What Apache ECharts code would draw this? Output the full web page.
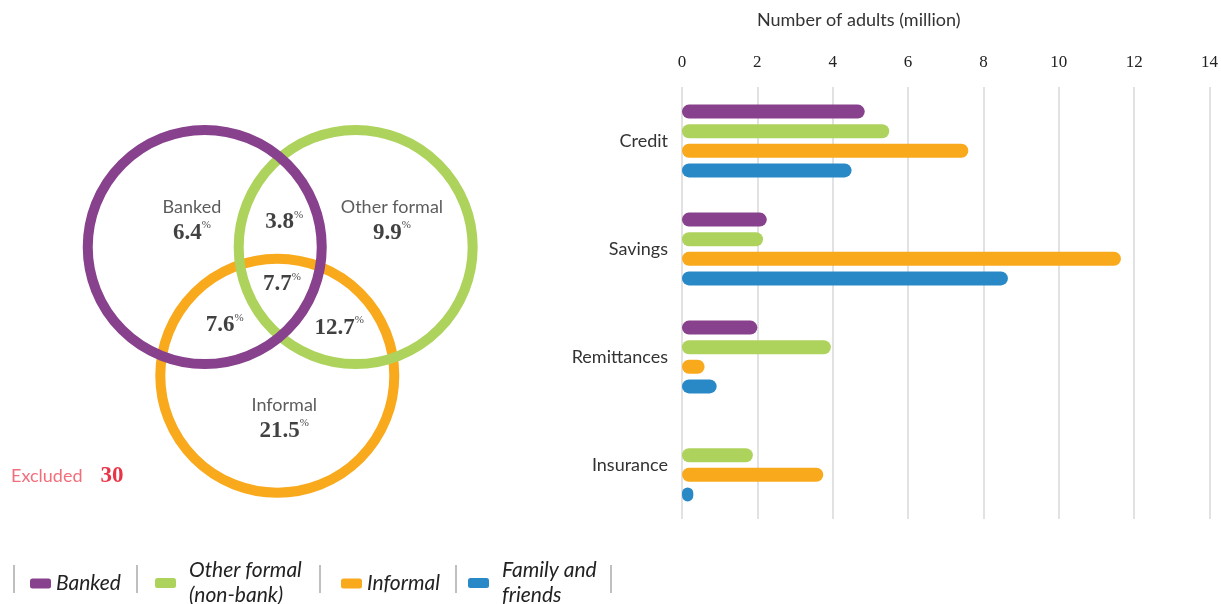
<!DOCTYPE html>
<html>
<head>
<meta charset="utf-8">
<script src="https://cdn.jsdelivr.net/npm/echarts@6/dist/echarts.min.js"></script>
<style>
  html, body { margin: 0; padding: 0; background: #fff; }
  #main { width: 1221px; height: 604px; }
</style>
</head>
<body>
<div id="main"></div>
<script>
// bar chart data (million adults)
var categories = ['Credit', 'Savings', 'Remittances', 'Insurance'];
var banked = [4.85, 2.25, 2.0, '-'];
var otherFormal = [5.5, 2.15, 3.95, 1.88];
var informal = [7.6, 11.65, 0.6, 3.75];
var family = [4.5, 8.65, 0.92, 0.3];
var seriesNames = ['Banked', 'Other formal (non-bank)', 'Informal', 'Family and friends'];
var xTicks = [0, 2, 4, 6, 8, 10, 12, 14];

// venn data (% of adults)
var vennSets = ['Banked', 'Other formal', 'Informal'];
var bankedOnly = 6.4;
var otherOnly = 9.9;
var informalOnly = 21.5;
var bankedOther = 3.8;
var bankedInformal = 7.6;
var otherInformal = 12.7;
var allThree = 7.7;
var excluded = 30;

var colors = ['#88418C', '#ADD35D', '#F9A91C', '#2989C7'];
var sans = 'Lato';
var serif = 'Liberation Serif';

// circle geometry in venn units: [cx, cy, r]
var vennCircles = [
    [0.62, -1.1, 1],   // Informal
    [1.29, 0, 1],      // Other formal
    [0, 0, 1]          // Banked
];
var vennCircleColors = [colors[2], colors[1], colors[0]];

var legendLabels = {
    'Banked': 'Banked',
    'Other formal (non-bank)': 'Other formal\n(non-bank)',
    'Informal': 'Informal',
    'Family and friends': 'Family and\nfriends'
};
var legendLefts = [25, 150, 336, 463];
var separatorX = [14, 137, 320, 456, 611];

var chart = echarts.init(document.getElementById('main'));

function pct(v) {
    return '{v|' + v + '}{p|%}';
}

var vennLabels = [
    { value: [-0.11, 0.23], text: '{n|' + vennSets[0] + '}\n' + pct(bankedOnly) },
    { value: [1.6, 0.23], text: '{n|' + vennSets[1] + '}\n' + pct(otherOnly) },
    { value: [0.68, -1.46], text: '{n|' + vennSets[2] + '}\n' + pct(informalOnly) },
    { value: [0.68, 0.21], text: pct(bankedOther) },
    { value: [0.17, -0.67], text: pct(bankedInformal) },
    { value: [1.15, -0.69], text: pct(otherInformal) },
    { value: [0.66, -0.32], text: pct(allThree) }
];

var richStyles = {
    n: { fontFamily: sans, fontSize: 18, color: '#333', lineHeight: 26 },
    v: { fontFamily: serif, fontWeight: 'bold', fontSize: 23, color: '#111', lineHeight: 26 },
    p: { fontFamily: serif, fontSize: 11, color: '#111', verticalAlign: 'top', lineHeight: 26 },
    e: { fontFamily: sans, fontSize: 18, color: '#EE4B5A' },
    x: { fontFamily: serif, fontWeight: 'bold', fontSize: 23, color: '#E2001A', padding: [0, 0, 0, 18] }
};

function barSeries(name, data, color) {
    return {
        name: name,
        type: 'bar',
        xAxisIndex: 0,
        yAxisIndex: 0,
        data: data,
        barWidth: 14,
        barGap: '40%',
        itemStyle: { color: color, borderRadius: 7 }
    };
}

var option = {
    animation: false,
    color: colors,
    grid: [
        { left: 682, right: 8, top: 87, height: 432 },
        { left: 0, top: 71.5, width: 468, height: 468 }
    ],
    legend: seriesNames.map(function (name, i) {
        var twoLines = legendLabels[name].indexOf('\n') >= 0;
        return {
            left: legendLefts[i],
            top: twoLines ? 553 : 566,
            icon: 'roundRect',
            itemWidth: 21,
            itemHeight: 10,
            itemGap: 0,
            data: [name],
            formatter: function (n) { return legendLabels[n]; },
            textStyle: {
                fontFamily: sans,
                fontStyle: 'italic',
                fontSize: 21,
                lineHeight: 25,
                color: '#222',
                padding: [0, 0, 0, twoLines ? 8 : 0]
            }
        };
    }),
    xAxis: [
        {
            gridIndex: 0,
            type: 'value',
            position: 'top',
            min: xTicks[0],
            max: xTicks[xTicks.length - 1],
            interval: 2,
            name: 'Number of adults (million)',
            nameLocation: 'middle',
            nameGap: 58,
            nameTextStyle: {
                fontFamily: sans, fontSize: 18, color: '#333',
                padding: [0, 174, 0, 0]
            },
            axisLine: { show: false },
            axisTick: { show: false },
            axisLabel: { fontFamily: serif, fontSize: 17, color: '#222', margin: 16 },
            splitLine: { lineStyle: { color: '#d9d9d9', width: 1.5 } }
        },
        { gridIndex: 1, type: 'value', min: -1.75, max: 2.25, show: false }
    ],
    yAxis: [
        {
            gridIndex: 0,
            type: 'category',
            inverse: true,
            data: categories,
            axisLine: { show: false },
            axisTick: { show: false },
            axisLabel: { fontFamily: sans, fontSize: 18, color: '#333', margin: 14, padding: [0, 0, 6, 0] }
        },
        { gridIndex: 1, type: 'value', min: -2.5, max: 1.5, show: false }
    ],
    graphic: separatorX.map(function (x) {
        return {
            type: 'line',
            shape: { x1: x, y1: 565, x2: x, y2: 593 },
            style: { stroke: '#aaa', lineWidth: 1.5 }
        };
    }),
    series: [
        barSeries(seriesNames[0], banked, colors[0]),
        barSeries(seriesNames[1], otherFormal, colors[1]),
        barSeries(seriesNames[2], informal, colors[2]),
        barSeries(seriesNames[3], family, colors[3]),
        {
            type: 'custom',
            xAxisIndex: 1,
            yAxisIndex: 1,
            silent: true,
            data: vennCircles,
            renderItem: function (params, api) {
                var c = api.coord([api.value(0), api.value(1)]);
                var r = api.size([api.value(2), 0])[0];
                return {
                    type: 'circle',
                    shape: { cx: c[0], cy: c[1], r: r },
                    style: { fill: 'none', stroke: vennCircleColors[params.dataIndex], lineWidth: 10 }
                };
            }
        },
        {
            type: 'scatter',
            xAxisIndex: 1,
            yAxisIndex: 1,
            silent: true,
            symbolSize: 0,
            z: 5,
            data: vennLabels.map(function (d) {
                return {
                    value: d.value,
                    label: {
                        show: true,
                        position: 'inside',
                        formatter: d.text,
                        align: 'center',
                        rich: richStyles
                    }
                };
            }).concat([{
                value: [-1.656, -1.96],
                label: {
                    show: true,
                    position: 'inside',
                    align: 'left',
                    formatter: '{e|Excluded}{x|' + excluded + '}',
                    rich: richStyles
                }
            }])
        }
    ]
};

chart.setOption(option);
</script>
</body>
</html>
